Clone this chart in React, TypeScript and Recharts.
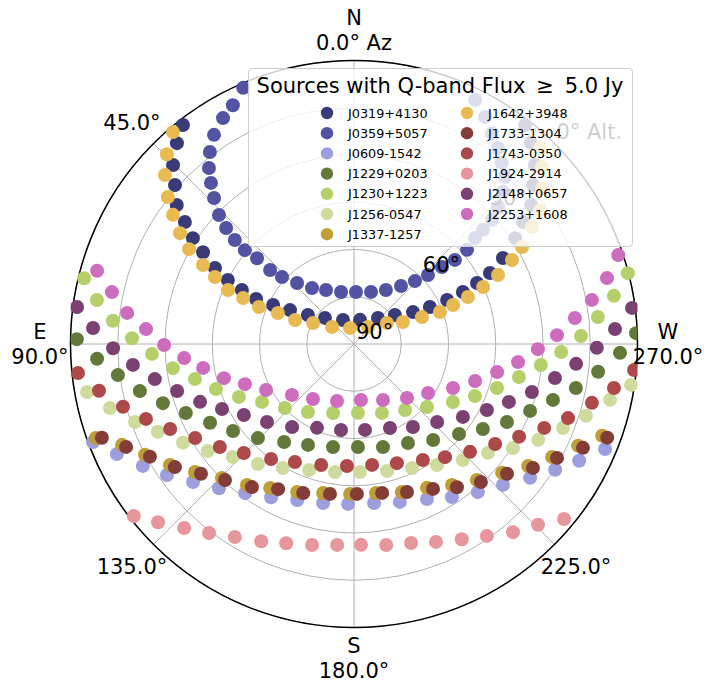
import React from 'react';
import {
  ScatterChart,
  Scatter,
  XAxis,
  YAxis,
  Legend,
  RadarChart,
  PolarGrid,
  PolarAngleAxis,
  PolarRadiusAxis,
} from 'recharts';

const W = 706;
const H = 683;
const CX = 354;
const CY = 344;
const R = 283.5;
const FONT = '"DejaVu Sans", Verdana, sans-serif';

// sky tracks: azimuth (deg, N = 0, E = 90) and altitude (deg) of every sample
const J0319_AZ = [38.0, 41.4, 45.3, 48.4, 51.9, 54.2, 56.7, 58.7, 61.3, 63.1, 64.3, 65.3, 64.3, 62.1, 57.8, 48.1, 24.6, 346.0, 317.3, 305.3, 298.4, 296.0, 295.3, 295.5, 296.4, 297.6, 300.0, 303.3, 305.8, 308.1, 311.6, 314.7, 318.7, 322.0];
const J0319_ALT = [1.8, 5.0, 9.2, 14.0, 18.5, 23.8, 28.8, 33.9, 39.7, 45.1, 50.5, 55.8, 61.5, 67.0, 72.7, 77.6, 81.6, 82.1, 78.8, 74.1, 68.7, 63.2, 57.3, 51.7, 46.4, 41.3, 35.4, 28.8, 23.8, 18.5, 14.0, 9.2, 5.0, 1.8];
const J0359_AZ = [23.4, 26.9, 30.1, 33.8, 36.9, 39.5, 41.6, 43.8, 46.3, 47.8, 48.9, 49.3, 48.5, 48.6, 47.1, 43.0, 36.9, 27.4, 14.0, 357.8, 341.9, 329.4, 321.0, 315.9, 313.0, 311.2, 309.8, 309.8, 311.2, 311.5, 312.0, 313.5, 315.6, 317.9, 320.8, 323.7, 326.8, 330.0, 333.6];
const J0359_ALT = [1.4, 5.0, 7.1, 10.1, 13.8, 17.6, 21.6, 25.8, 30.7, 35.2, 39.8, 44.3, 48.9, 54.5, 58.8, 63.5, 67.8, 70.7, 73.0, 73.5, 72.6, 70.1, 66.3, 62.2, 57.9, 52.9, 48.3, 43.3, 38.9, 35.3, 31.1, 26.9, 22.4, 18.5, 15.8, 12.8, 10.0, 6.8, 3.5];
const J0609_AZ = [110.6, 114.9, 120.0, 125.0, 130.6, 136.9, 143.9, 151.6, 160.0, 169.0, 177.9, 187.2, 196.2, 205.2, 212.6, 219.9, 226.6, 232.8, 238.0, 242.6, 247.3];
const J0609_ALT = [1.5, 7.0, 12.6, 17.5, 22.7, 27.3, 31.4, 34.7, 37.3, 38.6, 39.2, 39.1, 37.8, 35.6, 32.3, 28.7, 24.9, 19.8, 14.7, 9.5, 3.6];
const J1229_AZ = [89.0, 93.3, 97.5, 102.4, 107.2, 112.3, 118.7, 125.7, 134.4, 144.5, 155.5, 168.5, 182.2, 195.7, 208.6, 219.5, 229.4, 236.6, 243.0, 249.2, 254.3, 258.8, 263.5, 268.1, 272.2];
const J1229_ALT = [2.0, 8.3, 14.4, 20.4, 26.5, 32.3, 37.9, 42.7, 47.3, 51.8, 54.8, 56.6, 57.3, 56.0, 54.2, 50.5, 46.1, 41.0, 35.5, 30.2, 24.4, 18.2, 12.0, 5.5, 0.4];
const J1230_AZ = [76.3, 80.3, 84.5, 88.5, 92.8, 97.6, 102.4, 108.1, 114.7, 122.2, 132.8, 145.9, 163.1, 183.3, 202.1, 217.7, 229.2, 239.6, 246.7, 252.9, 258.7, 263.6, 267.8, 272.0, 276.3, 280.5, 284.5];
const J1230_ALT = [1.8, 7.2, 13.1, 19.5, 25.8, 32.0, 38.3, 43.9, 49.8, 55.5, 60.1, 63.9, 67.1, 68.1, 66.4, 63.5, 59.4, 53.6, 48.2, 42.5, 36.6, 30.3, 24.2, 17.9, 12.1, 6.1, 0.2];
const J1256_AZ = [100.2, 104.7, 109.6, 114.1, 120.0, 126.2, 133.0, 141.3, 150.2, 160.4, 171.6, 182.7, 194.6, 205.1, 214.4, 223.2, 230.9, 236.8, 242.5, 248.1, 252.8, 257.7, 261.6];
const J1256_ALT = [3.9, 9.9, 16.2, 21.8, 27.3, 32.5, 37.4, 41.2, 44.6, 47.5, 48.9, 49.3, 48.3, 46.5, 43.4, 39.5, 35.2, 29.7, 24.1, 18.5, 12.9, 6.8, 1.1];
const J1337_AZ = [110.0, 113.5, 117.9, 123.3, 128.8, 135.4, 142.8, 149.8, 159.0, 168.3, 178.5, 188.4, 197.9, 206.9, 214.8, 222.1, 229.0, 235.0, 240.3, 245.6, 249.7];
const J1337_ALT = [2.8, 9.7, 14.9, 20.1, 25.2, 30.3, 33.8, 37.1, 39.7, 41.7, 42.4, 42.2, 40.6, 38.8, 35.5, 31.8, 27.7, 22.5, 17.6, 11.9, 6.0];
const J1642_AZ = [40.5, 44.6, 48.2, 51.7, 54.5, 57.5, 60.1, 62.4, 64.3, 66.8, 67.5, 68.7, 67.8, 67.9, 62.9, 52.3, 14.0, 320.5, 302.5, 294.2, 291.6, 290.4, 291.5, 292.4, 293.8, 295.6, 298.0, 300.0, 303.3, 305.7, 309.6, 313.3, 316.5];
const J1642_ALT = [1.5, 5.4, 9.5, 14.7, 19.4, 24.5, 29.6, 35.9, 41.0, 46.5, 51.9, 57.6, 63.9, 69.8, 75.4, 81.2, 84.8, 83.0, 77.6, 73.0, 66.8, 60.9, 56.2, 50.9, 45.2, 39.3, 33.2, 28.4, 22.4, 17.2, 12.4, 8.0, 4.2];
const J1733_AZ = [110.4, 114.3, 118.9, 124.5, 130.3, 136.5, 144.5, 152.4, 161.2, 170.9, 181.1, 190.7, 199.7, 208.6, 215.7, 222.6, 229.7, 235.3, 240.7, 245.6, 249.7];
const J1733_ALT = [4.6, 10.6, 16.0, 21.0, 26.3, 30.5, 34.2, 38.0, 40.0, 41.8, 42.4, 41.9, 40.1, 37.6, 34.0, 30.5, 26.3, 20.9, 16.1, 10.2, 4.3];
const J1743_AZ = [96.0, 100.4, 105.2, 109.8, 114.8, 120.6, 127.5, 134.7, 144.2, 153.4, 164.8, 176.7, 188.5, 199.8, 210.7, 218.8, 227.1, 234.7, 240.7, 246.2, 250.9, 256.1, 260.4, 264.7];
const J1743_ALT = [1.9, 7.7, 14.0, 19.8, 25.7, 31.4, 36.3, 40.8, 45.0, 48.1, 50.2, 51.2, 51.2, 49.8, 47.2, 43.9, 39.7, 35.1, 29.9, 24.0, 18.1, 12.2, 6.3, 0.7];
const J1924_AZ = [128.0, 132.3, 137.3, 142.5, 148.3, 154.8, 161.2, 168.2, 175.2, 182.0, 189.1, 196.0, 202.5, 208.9, 214.7, 220.2, 225.5, 230.2];
const J1924_ALT = [1.3, 5.9, 10.5, 14.4, 18.0, 20.8, 23.2, 24.8, 26.0, 26.2, 25.4, 24.3, 22.0, 19.2, 15.9, 11.8, 8.1, 3.2];
const J2148_AZ = [82.4, 86.5, 91.0, 95.4, 100.0, 104.9, 110.6, 116.2, 122.8, 131.9, 143.3, 156.2, 171.4, 187.3, 203.2, 215.4, 226.8, 236.2, 243.6, 249.5, 254.9, 260.4, 264.9, 269.1, 273.3, 277.4];
const J2148_ALT = [1.3, 7.0, 13.5, 19.5, 25.8, 31.9, 37.8, 43.3, 48.4, 52.9, 57.1, 60.9, 62.4, 62.5, 61.0, 57.7, 53.8, 48.4, 42.9, 37.5, 31.5, 25.3, 19.2, 12.9, 7.0, 1.0];
const J2253_AZ = [74.1, 77.9, 82.2, 85.9, 90.3, 94.7, 99.0, 104.7, 110.2, 117.6, 129.4, 143.3, 163.4, 187.1, 207.4, 224.5, 236.5, 246.0, 253.0, 258.9, 263.7, 268.4, 272.5, 276.7, 280.5, 284.6, 288.6];
const J2253_ALT = [5.2, 11.4, 17.3, 23.8, 29.7, 35.9, 41.5, 47.3, 53.1, 58.5, 64.5, 68.2, 71.1, 72.1, 70.0, 66.0, 61.8, 55.6, 49.8, 43.7, 37.6, 31.6, 25.5, 19.4, 13.2, 7.0, 1.5];

// azimuth ticks, clockwise on screen starting at north
const AZIMUTH_TICKS = [0, 315, 270, 225, 180, 135, 90, 45];
const COMPASS: Record<number, string> = { 0: 'N', 90: 'E', 180: 'S', 270: 'W' };
// zenith distance rings (alt = 90 - z)
const ZEN_TICKS = [0, 15, 30, 45, 60, 75, 90];
const ZEN_LABELLED = [0, 30, 60, 90];

const toPoints = (az: number[], alt: number[]) =>
  az.map((a, i) => {
    const zen = 90 - alt[i];
    const rad = (a * Math.PI) / 180;
    return { x: -zen * Math.sin(rad), y: zen * Math.cos(rad), az: a, alt: alt[i] };
  });

const SOURCES = [
  { name: 'J0319+4130', color: '#393b79', az: J0319_AZ, alt: J0319_ALT },
  { name: 'J0359+5057', color: '#5254a3', az: J0359_AZ, alt: J0359_ALT },
  { name: 'J0609-1542', color: '#9c9ede', az: J0609_AZ, alt: J0609_ALT },
  { name: 'J1229+0203', color: '#637939', az: J1229_AZ, alt: J1229_ALT },
  { name: 'J1230+1223', color: '#b5cf6b', az: J1230_AZ, alt: J1230_ALT },
  { name: 'J1256-0547', color: '#cedb9c', az: J1256_AZ, alt: J1256_ALT },
  { name: 'J1337-1257', color: '#bd9e39', az: J1337_AZ, alt: J1337_ALT },
  { name: 'J1642+3948', color: '#e7ba52', az: J1642_AZ, alt: J1642_ALT },
  { name: 'J1733-1304', color: '#843c39', az: J1733_AZ, alt: J1733_ALT },
  { name: 'J1743-0350', color: '#ad494a', az: J1743_AZ, alt: J1743_ALT },
  { name: 'J1924-2914', color: '#e7969c', az: J1924_AZ, alt: J1924_ALT },
  { name: 'J2148+0657', color: '#7b4173', az: J2148_AZ, alt: J2148_ALT },
  { name: 'J2253+1608', color: '#ce6dbd', az: J2253_AZ, alt: J2253_ALT },
].map((s) => ({ ...s, points: toPoints(s.az, s.alt) }));

const azLabel = (az: number) => {
  if (az === 315) return '';
  const deg = `${az.toFixed(1)}°`;
  if (az === 0) return `N\n${deg} Az`;
  return COMPASS[az] ? `${COMPASS[az]}\n${deg}` : deg;
};

// each spoke reaches the horizon ring (zenith distance 90)
const AZ_DATA = AZIMUTH_TICKS.map((az) => ({ label: azLabel(az), zen: 90 }));

const AngleTick = (props: any) => {
  const { x, y, payload } = props;
  const lines = String(payload.value).split('\n').filter((l) => l !== '');
  if (!lines.length) return <g />;
  const lh = 25;
  const top = y - ((lines.length - 1) * lh) / 2;
  return (
    <text textAnchor="middle" fontFamily={FONT} fontSize={21} fill="#000">
      {lines.map((l, i) => (
        <tspan key={i} x={x} y={top + i * lh + 7.6}>
          {l}
        </tspan>
      ))}
    </text>
  );
};

const RadiusTick = (props: any) => {
  const { x, y, payload } = props;
  const z = Number(payload.value);
  if (!ZEN_LABELLED.includes(z)) return <g />;
  const text = z === 90 ? `${90 - z}° Alt.` : `${90 - z}°`;
  return (
    <text x={x + 2} y={y - 5} textAnchor="start" fontFamily={FONT} fontSize={21} fill="#000">
      {text}
    </text>
  );
};

const LegendBox = () => (
  <svg width={383} height={177} style={{ display: 'block' }}>
    <text x={191} y={24} textAnchor="middle" fontFamily={FONT} fontSize={21} fill="#000" style={{ whiteSpace: 'pre' }}>
      {'Sources with Q-band Flux \u2009≥\u2009 5.0 Jy'}
    </text>
    {SOURCES.map((s, i) => {
      const col = i < 7 ? 0 : 1;
      const row = col ? i - 7 : i;
      const mx = col ? 218 : 78;
      const my = 44 + row * 20.2;
      return (
        <g key={s.name}>
          <circle cx={mx} cy={my} r={6.2} fill={s.color} />
          <text x={mx + 21} y={my + 4.6} fontFamily={FONT} fontSize={12.8} fill="#000">
            {s.name}
          </text>
        </g>
      );
    })}
  </svg>
);

const layer: React.CSSProperties = { position: 'absolute', left: 0, top: 0 };
const noMargin = { top: 0, right: 0, bottom: 0, left: 0 };

export default function App() {
  return (
    <div style={{ position: 'absolute', left: 0, top: 0, width: W, height: H, background: '#fff', fontFamily: FONT }}>
      <div style={layer}>
        <RadarChart width={W} height={H} cx={CX} cy={CY} outerRadius={R} data={AZ_DATA} margin={noMargin}>
          <PolarGrid gridType="circle" stroke="#b0b0b0" strokeWidth={1} />
          <PolarAngleAxis
            dataKey="label"
            tick={false}
            tickLine={false}
            axisLineType="circle"
            axisLine={{ stroke: '#000', strokeWidth: 1.5 }}
          />
          <PolarRadiusAxis
            type="number"
            dataKey="zen"
            domain={[0, 90]}
            allowDataOverflow
            ticks={ZEN_TICKS}
            tickCount={7}
            tick={false}
            axisLine={false}
          />
        </RadarChart>
      </div>
      <div style={layer}>
        <ScatterChart
          width={W}
          height={H}
          margin={{ top: CY - R, right: W - CX - R, bottom: H - CY - R, left: CX - R }}
        >
          <XAxis type="number" dataKey="x" domain={[-90, 90]} hide allowDataOverflow />
          <YAxis type="number" dataKey="y" domain={[-90, 90]} hide allowDataOverflow />
          {SOURCES.map((s) => (
            <Scatter
              key={s.name}
              name={s.name}
              data={s.points}
              fill={s.color}
              isAnimationActive={false}
              shape={(p: any) => <circle cx={p.cx} cy={p.cy} r={7} fill={s.color} />}
            />
          ))}
          <Legend
            layout="vertical"
            align="center"
            verticalAlign="middle"
            content={() => <LegendBox />}
            wrapperStyle={{
              left: 248,
              top: 68,
              width: 385,
              height: 179,
              background: 'rgba(255,255,255,0.8)',
              border: '1px solid #cccccc',
              borderRadius: 4,
              boxSizing: 'border-box',
              zIndex: 5,
            }}
          />
        </ScatterChart>
      </div>
      <div style={{ ...layer, pointerEvents: 'none' }}>
        <RadarChart width={W} height={H} cx={CX} cy={CY} outerRadius={R} data={AZ_DATA} margin={noMargin}>
          <PolarAngleAxis dataKey="label" tick={AngleTick} tickLine={false} axisLine={false} tickSize={30.5} />
          <PolarRadiusAxis
            type="number"
            dataKey="zen"
            domain={[0, 90]}
            allowDataOverflow
            angle={45}
            ticks={ZEN_TICKS}
            tickCount={7}
            tick={RadiusTick}
            axisLine={false}
          />
        </RadarChart>
      </div>
    </div>
  );
}
